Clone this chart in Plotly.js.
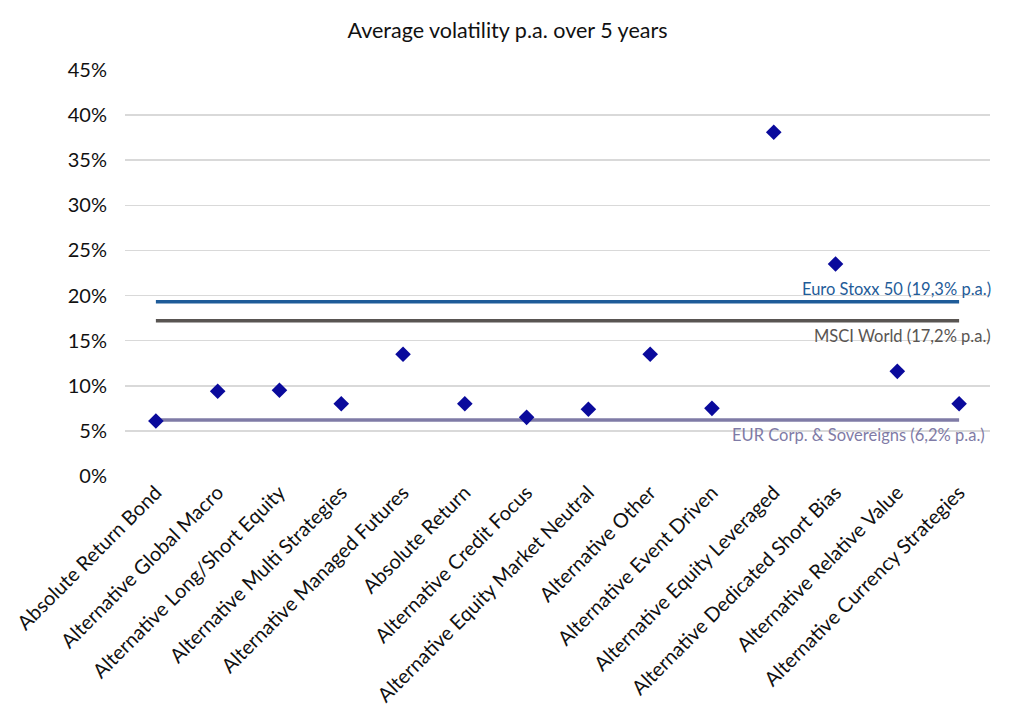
<!DOCTYPE html>
<html>
<head>
<meta charset="utf-8">
<script src="https://cdn.plot.ly/plotly-3.0.1.min.js"></script>
<style>
  html, body { margin: 0; padding: 0; background: #fff; }
  #chart { width: 1015px; height: 725px; }
</style>
</head>
<body>
<div id="chart"></div>
<script>
const categories = [
  "Absolute Return Bond",
  "Alternative Global Macro",
  "Alternative Long/Short Equity",
  "Alternative Multi Strategies",
  "Alternative Managed Futures",
  "Absolute Return",
  "Alternative Credit Focus",
  "Alternative Equity Market Neutral",
  "Alternative Other",
  "Alternative Event Driven",
  "Alternative Equity Leveraged",
  "Alternative Dedicated Short Bias",
  "Alternative Relative Value",
  "Alternative Currency Strategies",
];

// average volatility p.a. in %
const volatility = [6.1, 9.4, 9.5, 8.0, 13.5, 8.0, 6.5, 7.4, 13.5, 7.5, 38.1, 23.5, 11.6, 8.0];

const benchmarkNames = ["Euro Stoxx 50", "MSCI World", "EUR Corp. & Sovereigns"];
const benchmarkValues = [19.3, 17.2, 6.2];
const benchmarkLabels = [
  "Euro Stoxx 50 (19,3% p.a.)",
  "MSCI World (17,2% p.a.)",
  "EUR Corp. & Sovereigns (6,2% p.a.)",
];
const benchmarkColors = ["#1f5c99", "#595552", "#7f7ba6"];

const yTicks = [0, 5, 10, 15, 20, 25, 30, 35, 40, 45];

const font = "Lato, 'Open Sans', sans-serif";

const traces = benchmarkValues.map((v, i) => ({
  x: [categories[0], categories[categories.length - 1]],
  y: [v, v],
  mode: "lines",
  type: "scatter",
  name: benchmarkNames[i],
  line: { color: benchmarkColors[i], width: 3.5 },
  hoverinfo: "skip",
}));

traces.push({
  x: categories,
  y: volatility,
  mode: "markers",
  type: "scatter",
  name: "Volatility",
  marker: { symbol: "diamond", size: 12, color: "#0a0a9c" },
});

const annotations = benchmarkLabels.map((text, i) => ({
  text,
  xref: "paper",
  yref: "y",
  x: i === 2 ? 0.997 : 1.003,
  y: benchmarkValues[i],
  xanchor: "right",
  yanchor: i === 0 ? "bottom" : "top",
  yshift: i === 0 ? 1 : -3,
  showarrow: false,
  font: { family: font, size: 16.5, color: benchmarkColors[i] },
}));

const layout = {
  width: 1015,
  height: 725,
  paper_bgcolor: "#fff",
  plot_bgcolor: "#fff",
  showlegend: false,
  title: {
    text: "Average volatility p.a. over 5 years",
    font: { family: font, size: 21.5, color: "#111" },
    x: 0.5,
    xanchor: "center",
    y: 0.958,
    yanchor: "middle",
  },
  margin: { l: 125, r: 25, t: 70, b: 249 },
  xaxis: {
    type: "category",
    categoryorder: "array",
    categoryarray: categories,
    range: [-0.5, categories.length - 0.5],
    tickangle: -45,
    tickfont: { family: font, size: 20, color: "#111" },
    showgrid: false,
    zeroline: false,
    showline: false,
    ticks: "",
  },
  yaxis: {
    range: [0, 45],
    tickvals: yTicks,
    ticktext: yTicks.map(t => t + "%"),
    tickfont: { family: font, size: 20, color: "#111" },
    showgrid: true,
    gridcolor: "#d9d9d9",
    gridwidth: 1.5,
    zeroline: false,
    showline: false,
    ticks: "",
    ticklabelstandoff: 17,
  },
  annotations,
};

Plotly.newPlot("chart", traces, layout, { displayModeBar: false, staticPlot: true });
</script>
</body>
</html>
